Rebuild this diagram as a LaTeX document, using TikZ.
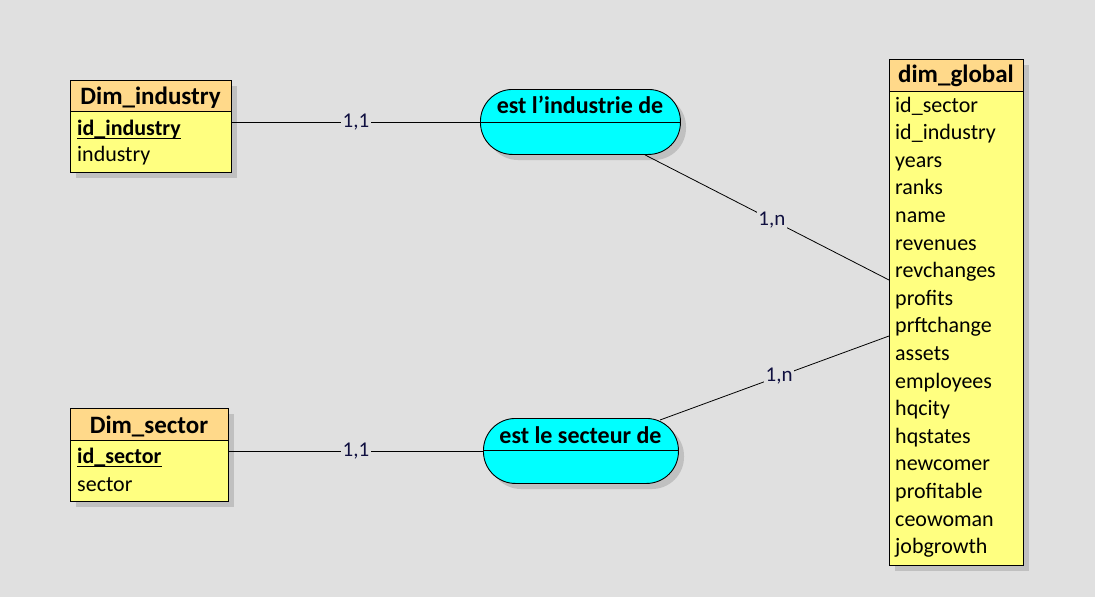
\documentclass[tikz,border=0pt]{standalone}
\usepackage{fontspec}
\setmainfont{Carlito}[Ligatures=ResetAll]
\usetikzlibrary{calc}
\definecolor{bg}{HTML}{E0E0E0}
\definecolor{hdr}{HTML}{FFD98A}
\definecolor{body}{HTML}{FFFF80}
\definecolor{rel}{HTML}{00FFFF}
\definecolor{shd}{HTML}{C0C0C0}
\definecolor{lbl}{HTML}{101040}
\tikzset{
  entbox/.style={draw=black, fill=body, line width=0.9pt, inner sep=0pt, anchor=north west},
  enthead/.style={draw=black, fill=hdr, line width=0.9pt, inner sep=0pt, anchor=north west},
  shadow/.style={fill=shd, draw=none},
  title/.style={font=\fontsize{25}{29}\selectfont\bfseries, inner sep=0pt, anchor=base},
  attr/.style={font=\fontsize{22}{26}\selectfont, inner sep=0pt, anchor=base west},
  keyattr/.style={font=\fontsize{22}{26}\selectfont\bfseries, inner sep=0pt, anchor=base west},
  relbox/.style={draw=black, fill=rel, line width=0.9pt, rounded corners=32pt, inner sep=0pt, anchor=north west},
  reltext/.style={font=\fontsize{24}{28}\selectfont\bfseries, inner sep=0pt, anchor=base},
  conn/.style={draw=black, line width=0.8pt},
  card/.style={font=\fontsize{21}{25}\selectfont, text=lbl, fill=bg, inner sep=1.5pt}
}
\begin{document}
\begin{tikzpicture}[x=1pt,y=-1pt]
\useasboundingbox[fill=bg] (0,0) rectangle (1095,597);

% ---------- Dim_industry ----------
\fill[shadow] (76,86) rectangle (237,178);
\node[entbox, minimum width=161pt, minimum height=92pt] (ind) at (70,80) {};
\node[enthead, minimum width=161pt, minimum height=31pt] (indh) at (70,80) {};
\node[title] (indt) at (150.5,104) {Dim\_industry};
\node[keyattr] (indk) at (77,135) {id\_industry};
\draw[line width=0.9pt] (77,138.5) -- (indk.east |- 0,138.5);
\node[attr] (inda) at (77,161) {industry};

% ---------- Dim_sector ----------
\fill[shadow] (76,414) rectangle (234,507);
\node[entbox, minimum width=158pt, minimum height=93pt] (sec) at (70,408) {};
\node[enthead, minimum width=158pt, minimum height=32pt] (sech) at (70,408) {};
\node[title] (sect) at (149,433) {Dim\_sector};
\node[keyattr] (seck) at (77,463) {id\_sector};
\draw[line width=0.9pt] (77,466.5) -- (seck.east |- 0,466.5);
\node[attr] (seca) at (77,491) {sector};

% ---------- dim_global ----------
\fill[shadow] (895,65) rectangle (1029,571);
\node[entbox, minimum width=134pt, minimum height=506pt] (glob) at (889,59) {};
\node[enthead, minimum width=134pt, minimum height=32pt] (globh) at (889,59) {};
\node[title] (globt) at (956,82) {dim\_global};
\foreach \t [count=\i from 0] in {id\_sector,id\_industry,years,ranks,name,revenues,revchanges,profits,prftchange,assets,employees,hqcity,hqstates,newcomer,profitable,ceowoman,jobgrowth}{
  \node[attr] (g\i) at (895,{112+27.6*\i}) {\t};
}

% ---------- relation: est l'industrie de ----------
\fill[shadow, rounded corners=32pt] (486,95) rectangle (686,160);
\node[relbox, minimum width=200pt, minimum height=65pt] (r1) at (480,89) {};
\draw[line width=0.9pt] (480,122) -- (680,122);
\node[reltext] (r1t) at (580,113) {est l'industrie de};

% ---------- relation: est le secteur de ----------
\fill[shadow, rounded corners=32pt] (489,424) rectangle (684,489);
\node[relbox, minimum width=195pt, minimum height=65pt] (r2) at (483,418) {};
\draw[line width=0.9pt] (483,450) -- (678,450);
\node[reltext] (r2t) at (580.5,443) {est le secteur de};

% ---------- connectors ----------
\coordinate (c1a) at ($(ind.north east)+(0,42)$);
\coordinate (c1b) at ($(r1.north west)+(0,33)$);
\draw[conn] (c1a) -- node[card] {1,1} (c1b);

\coordinate (c2a) at ($(r1.south west)+(165,0)$);
\coordinate (c2b) at ($(glob.north west)+(0,221)$);
\draw[conn] (c2a) -- node[card, pos=0.52] {1,n} (c2b);

\coordinate (c3a) at ($(r2.north west)+(177,2)$);
\coordinate (c3b) at ($(glob.north west)+(0,277)$);
\draw[conn] (c3a) -- node[card, pos=0.52] {1,n} (c3b);

\coordinate (c4a) at ($(sec.north east)+(0,43)$);
\coordinate (c4b) at ($(r2.north west)+(0,33)$);
\draw[conn] (c4a) -- node[card] {1,1} (c4b);
\end{tikzpicture}
\end{document}
